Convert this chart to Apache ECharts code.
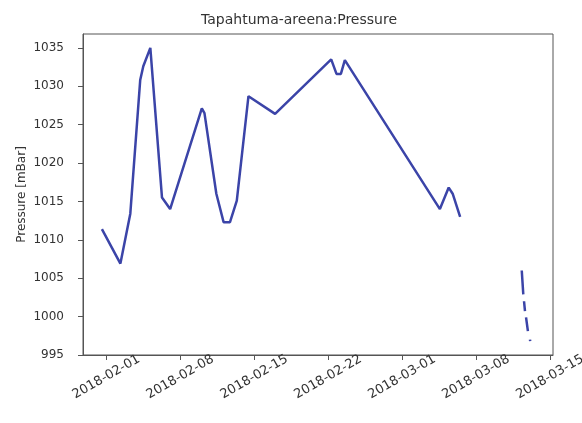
<!DOCTYPE html>
<html>
<head>
<meta charset="utf-8">
<script src="https://cdn.jsdelivr.net/npm/echarts@6/dist/echarts.min.js"></script>
<style>
  html, body { margin: 0; padding: 0; background: #fff; }
  #chart { width: 582px; height: 423px; }
</style>
</head>
<body>
<div id="chart"></div>
<script>
// ---- data ----
const times = [
  '2018-01-31 14:00', '2018-02-02 08:00', '2018-02-03 06:30', '2018-02-04 05:00',
  '2018-02-04 12:00', '2018-02-05 04:00', '2018-02-06 06:30', '2018-02-07 01:00',
  '2018-02-10 01:00', '2018-02-10 07:00', '2018-02-11 10:00', '2018-02-12 02:30',
  '2018-02-12 17:00', '2018-02-13 08:30', '2018-02-14 11:00', '2018-02-16 23:30',
  '2018-02-22 07:00', '2018-02-22 19:00', '2018-02-23 05:00', '2018-02-23 14:00',
  '2018-03-04 14:00', '2018-03-05 10:00', '2018-03-05 19:00', '2018-03-06 12:00',
  '2018-03-09 00:00',
  '2018-03-12 08:00', '2018-03-12 11:30', '2018-03-12 12:30',
  '2018-03-12 13:10', '2018-03-12 15:20', '2018-03-12 16:30',
  '2018-03-12 17:45', '2018-03-12 22:00', '2018-03-13 00:00',
  '2018-03-13 02:40', '2018-03-13 03:10'
];
const pressure = [
  1011.4, 1006.9, 1013.4, 1030.8,
  1032.6, 1035.0, 1015.5, 1014.0,
  1027.1, 1026.5, 1016.0, 1012.3,
  1012.3, 1015.1, 1028.7, 1026.4,
  1033.5, 1031.6, 1031.6, 1033.4,
  1014.0, 1016.8, 1016.0, 1013.0,
  null,
  1006.0, 1002.9, null,
  1002.0, 1000.7, null,
  999.9, 998.1, null,
  997.0, 996.8
];
const xTickLabels = ['2018-02-01', '2018-02-08', '2018-02-15', '2018-02-22', '2018-03-01', '2018-03-08', '2018-03-15'];
const yTickLabels = [995, 1000, 1005, 1010, 1015, 1020, 1025, 1030, 1035];
const xMinStr = '2018-01-29 19:00';
const xMaxStr = '2018-03-15 07:00';
const yMin = 995, yMax = 1036.8;

function parseUTC(s) {
  const [d, t] = s.split(' ');
  const [y, m, day] = d.split('-').map(Number);
  let hh = 0, mm = 0;
  if (t) { [hh, mm] = t.split(':').map(Number); }
  return Date.UTC(y, m - 1, day, hh, mm);
}

const seriesData = times.map((t, i) => [parseUTC(t), pressure[i]]);
const xTickValues = xTickLabels.map(parseUTC);
function fmtDate(v) {
  const d = new Date(v);
  const p = n => String(n).padStart(2, '0');
  return d.getUTCFullYear() + '-' + p(d.getUTCMonth() + 1) + '-' + p(d.getUTCDate());
}

const FONT = 'DejaVu Sans';
const chart = echarts.init(document.getElementById('chart'), null, { renderer: 'canvas' });
chart.setOption({
  animation: false,
  backgroundColor: '#ffffff',
  title: {
    text: 'Tapahtuma-areena:Pressure',
    left: 294,
    textAlign: 'center',
    top: 8,
    textStyle: { fontFamily: FONT, fontSize: 14, fontWeight: 'normal', color: '#333' }
  },
  grid: {
    left: 83, right: 29, top: 34, bottom: 68,
    outerBoundsMode: 'none',
    containLabel: false,
    show: true, borderColor: '#555', borderWidth: 1, backgroundColor: 'transparent'
  },
  xAxis: {
    type: 'value',
    min: parseUTC(xMinStr),
    max: parseUTC(xMaxStr),
    axisLine: { show: true, lineStyle: { color: '#555', width: 1 } },
    axisTick: { show: true, customValues: xTickValues, length: 5, lineStyle: { color: '#555' } },
    axisLabel: {
      customValues: xTickValues,
      formatter: v => fmtDate(v),
      rotate: 30,
      align: 'center',
      verticalAlign: 'middle',
      margin: 22,
      hideOverlap: false,
      fontFamily: FONT, fontSize: 13, color: '#333'
    },
    splitLine: { show: false }
  },
  yAxis: {
    type: 'value',
    min: yMin,
    max: yMax,
    interval: 5,
    name: 'Pressure [mBar]',
    nameLocation: 'middle',
    nameRotate: 90,
    nameGap: 55,
    nameMoveOverlap: false,
    nameTextStyle: { fontFamily: FONT, fontSize: 12, color: '#333' },
    axisLine: { show: true, lineStyle: { color: '#555', width: 1 } },
    axisTick: { show: true, customValues: yTickLabels, length: 5, lineStyle: { color: '#555' } },
    axisLabel: {
      customValues: yTickLabels,
      formatter: v => String(v),
      margin: 19,
      fontFamily: FONT, fontSize: 12, color: '#333'
    },
    splitLine: { show: false }
  },
  series: [{
    type: 'line',
    data: seriesData,
    showSymbol: false,
    connectNulls: false,
    lineStyle: { color: '#3b44a8', width: 2.5 },
    itemStyle: { color: '#3b44a8' }
  }]
});
</script>
</body>
</html>
